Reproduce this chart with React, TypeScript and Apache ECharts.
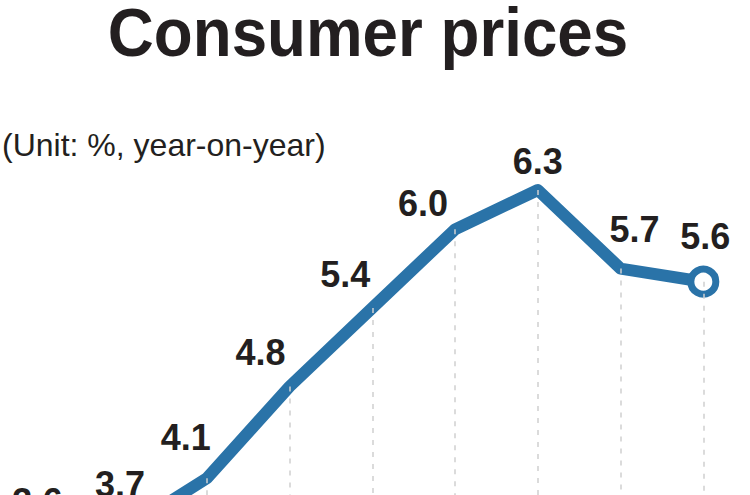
import React, { useEffect, useRef } from "react";
import * as echarts from "echarts";

const categories = ["Jan", "Feb", "Mar", "Apr", "May", "Jun", "Jul", "Aug", "Sep"];
const cpiValues = [3.6, 3.7, 4.1, 4.8, 5.4, 6.0, 6.3, 5.7, 5.6];
const titleText = "Consumer prices";
const unitText = "(Unit: %, year-on-year)";

// label offsets (styling only)
const labelOffsets: [number, number][] = [
  [-4, -42], [-4, -46], [-21, -41], [-29, -34], [-27, -33], [-32, -26], [0, -29], [14, -39], [2, -45],
];

const BLUE = "#2a73a8";
const INK = "#231f20";

export default function App() {
  const ref = useRef<HTMLDivElement>(null);
  useEffect(() => {
    if (!ref.current) return;
    const chart = echarts.init(ref.current, undefined, { renderer: "svg" });
    const yMin = 3;
    const last = cpiValues.length - 1;
    chart.setOption({
      animation: false,
      backgroundColor: "#ffffff",
      grid: { left: 0, right: 5.3, top: 98.3, bottom: 57.7 },
      xAxis: {
        type: "category",
        data: categories,
        boundaryGap: true,
        axisLine: { show: false },
        axisTick: { show: false },
        axisLabel: { show: false },
        splitLine: { show: false },
      },
      yAxis: {
        type: "value",
        min: yMin,
        max: 7,
        show: false,
        splitLine: { show: false },
      },
      graphic: [
        {
          type: "text",
          x: 368,
          y: 32.5,
          scaleX: 0.937,
          style: {
            text: titleText,
            fontFamily: "Liberation Sans, Arial, sans-serif",
            fontWeight: "bold",
            fontSize: 68,
            lineHeight: 60,
            fill: INK,
            align: "center",
            verticalAlign: "middle",
          },
        },
        {
          type: "text",
          x: 2,
          y: 144.5,
          style: {
            text: unitText,
            fontFamily: "Liberation Sans, Arial, sans-serif",
            fontSize: 32,
            fill: INK,
            align: "left",
            verticalAlign: "middle",
          },
        },
      ],
      series: [
        {
          type: "line",
          data: cpiValues,
          z: 1,
          symbol: "none",
          lineStyle: { opacity: 0 },
          silent: true,
          markLine: {
            silent: true,
            symbol: ["none", "none"],
            label: { show: false },
            lineStyle: { color: "#d0d0d0", type: [5, 7], width: 1.5 },
            data: cpiValues.map((v, i) => [
              { coord: [categories[i], v] },
              { coord: [categories[i], yMin] },
            ]),
          },
        },
        {
          type: "line",
          z: 3,
          data: cpiValues.map((v, i) => ({
            value: v,
            symbol: "circle",
            symbolSize: i === last ? 25 : 1,
            itemStyle:
              i === last
                ? { color: "#ffffff", borderColor: BLUE, borderWidth: 7 }
                : { color: BLUE, borderWidth: 0 },
            label: {
              show: true,
              position: "inside",
              offset: labelOffsets[i],
              formatter: v.toFixed(1),
              fontFamily: "Liberation Sans, Arial, sans-serif",
              fontWeight: "bold",
              fontSize: 36,
              color: INK,
              align: "center",
              verticalAlign: "middle",
            },
          })),
          showSymbol: true,
          lineStyle: { color: BLUE, width: 12, join: "round", cap: "round" },
          emphasis: { disabled: true },
        },
      ],
    });
    return () => chart.dispose();
  }, []);
  return (
    <div style={{ position: "fixed", left: 0, top: 0, width: 750, height: 495, overflow: "hidden", background: "#fff" }}>
      <div ref={ref} style={{ width: 750, height: 680 }} />
    </div>
  );
}
